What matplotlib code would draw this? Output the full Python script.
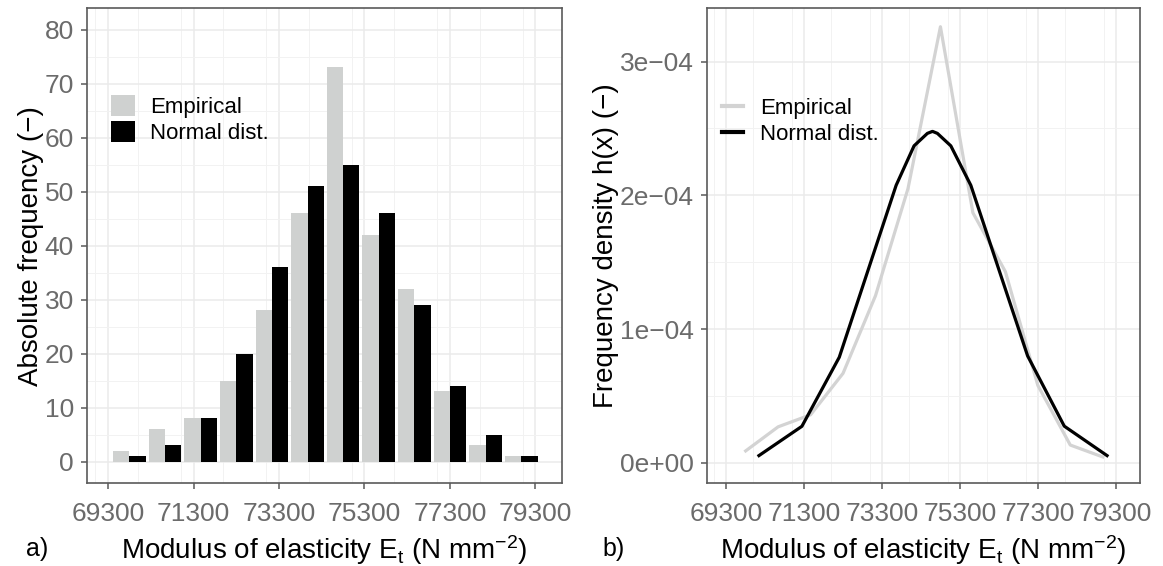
import numpy as np
import matplotlib.pyplot as plt
from matplotlib.patches import Patch
from matplotlib.lines import Line2D
from matplotlib.ticker import MultipleLocator

plt.rcParams['font.family'] = ['Liberation Sans', 'DejaVu Sans']
plt.rcParams['mathtext.fontset'] = 'custom'
plt.rcParams['mathtext.rm'] = 'Liberation Sans'
plt.rcParams['mathtext.it'] = 'Liberation Sans:italic'
plt.rcParams['mathtext.bf'] = 'Liberation Sans:bold'

# bin centres of the histogram (N mm^-2)
bin_centers = [69800, 70633, 71467, 72300, 73133, 73967, 74800,
               75633, 76467, 77300, 78133, 78967]
count_empirical = [2, 6, 8, 15, 28, 46, 73, 42, 32, 13, 3, 1]
count_normal = [1, 3, 8, 20, 36, 51, 55, 46, 29, 14, 5, 1]

# frequency density, empirical (at bin centres)
dens_empirical = [0.09e-4, 0.27e-4, 0.36e-4, 0.67e-4, 1.25e-4, 2.05e-4, 3.26e-4,
                  1.87e-4, 1.43e-4, 0.58e-4, 0.134e-4, 0.045e-4]
# frequency density, normal distribution
x_normal = [70141, 71244, 72203, 73663, 74123, 74465, 74596, 74722,
            75066, 75580, 77038, 77979, 79077]
dens_normal = [0.055e-4, 0.274e-4, 0.79e-4, 2.075e-4, 2.37e-4, 2.463e-4, 2.478e-4,
               2.463e-4, 2.37e-4, 2.075e-4, 0.80e-4, 0.275e-4, 0.055e-4]

x_ticks = [69300, 71300, 73300, 75300, 77300, 79300]
y_ticks_a = [0, 10, 20, 30, 40, 50, 60, 70, 80]
y_ticks_b = [0, 1e-4, 2e-4, 3e-4]
y_labels_b = ['0e+00', '1e\u221204', '2e\u221204', '3e\u221204']

GREY = '#CFD1D0'
GREY_LINE = '#D3D3D3'
xlim = (68800, 79915)
xlabel = r'Modulus of elasticity $\mathregular{E_t}$ (N mm$\mathregular{^{-2}}$)'
TITLE_FS = 20
TICK_FS = 19


def theme_bw(ax):
    ax.set_facecolor('white')
    for s in ax.spines.values():
        s.set_color('#5A5A5A')
        s.set_linewidth(1.2)
    ax.grid(which='major', color='#EBEBEB', lw=1.1)
    ax.grid(which='minor', color='#F2F2F2', lw=0.7)
    ax.set_axisbelow(True)
    ax.tick_params(which='major', length=4.3, width=1.1, color='#5A5A5A',
                   labelcolor='#6B6B6B', labelsize=TICK_FS, pad=5)
    ax.tick_params(axis='x', which='major', pad=9)
    ax.tick_params(which='minor', length=0)


fig = plt.figure(figsize=(11.63, 5.66), dpi=100)
ax1 = fig.add_axes([86.7 / 1163, 1 - 483.3 / 566, 475 / 1163, 475.3 / 566])
ax2 = fig.add_axes([706.7 / 1163, 1 - 483.3 / 566, 433 / 1163, 475.3 / 566])

# ---- a) histogram
bw = 0.459 * 833
xc = np.array(bin_centers)
ax1.bar(xc - bw / 2, count_empirical, width=bw, color=GREY, label='Empirical')
ax1.bar(xc + bw / 2, count_normal, width=bw, color='black', label='Normal dist.')
ax1.set_xlim(*xlim)
ax1.set_ylim(-4, 84)
ax1.set_xticks(x_ticks)
ax1.set_yticks(y_ticks_a)
ax1.xaxis.set_minor_locator(MultipleLocator(1000))
ax1.yaxis.set_minor_locator(MultipleLocator(5))
theme_bw(ax1)
ax1.set_xlabel(xlabel, fontsize=TITLE_FS, labelpad=5.5)
ax1.set_ylabel('Absolute frequency (\u2212)', fontsize=TITLE_FS)
ax1.yaxis.set_label_coords((44 - 86.7) / 475, 0.5)
ax1.legend(handles=[Patch(facecolor=GREY, label='Empirical'),
                    Patch(facecolor='black', label='Normal dist.')],
           loc='upper left', bbox_to_anchor=(0.051, 0.8175), frameon=False,
           fontsize=16, handlelength=1.08, handleheight=1.08,
           handletextpad=0.7, labelspacing=0.15, borderpad=0, borderaxespad=0)

# ---- b) densities
ax2.plot(bin_centers, dens_empirical, color=GREY_LINE, lw=2.3)
ax2.plot(x_normal, dens_normal, color='black', lw=2.3)
ax2.set_xlim(*xlim)
ax2.set_ylim(-0.152e-4, 3.4e-4)
ax2.set_xticks(x_ticks)
ax2.set_yticks(y_ticks_b)
ax2.set_yticklabels(y_labels_b)
ax2.xaxis.set_minor_locator(MultipleLocator(1000))
ax2.yaxis.set_minor_locator(MultipleLocator(0.5e-4))
theme_bw(ax2)
ax2.set_xlabel(xlabel, fontsize=TITLE_FS, labelpad=5.5)
ax2.set_ylabel('Frequency density h(x) (\u2212)', fontsize=TITLE_FS)
ax2.yaxis.set_label_coords((619 - 706.7) / 433, 0.5)
ax2.legend(handles=[Line2D([], [], color=GREY_LINE, lw=3, label='Empirical'),
                    Line2D([], [], color='black', lw=3, label='Normal dist.')],
           loc='upper left', bbox_to_anchor=(15 / 433, (483.3 - 98) / 475.3), frameon=False,
           fontsize=16, handlelength=0.95, handletextpad=0.76, labelspacing=0.22,
           borderpad=0, borderaxespad=0)

fig.text(37 / 1163, 1 - 549 / 566, 'a)', fontsize=18, ha='center', va='center')
fig.text(614 / 1163, 1 - 549 / 566, 'b)', fontsize=18, ha='center', va='center')

fig.savefig('out.png', dpi=100)
